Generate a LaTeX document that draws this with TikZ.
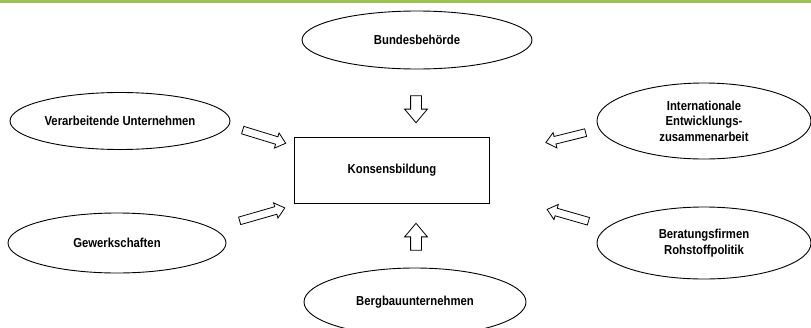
\documentclass[tikz,border=0pt]{standalone}
\usepackage{fontspec}
\setmainfont{Liberation Sans}[FakeStretch=0.87]
\usetikzlibrary{shapes.geometric,shapes.arrows}
\definecolor{topgreen}{HTML}{9CC44C}
\tikzset{
  actor/.style={draw, ellipse, line width=0.9pt, inner sep=0pt, align=center,
    font=\fontsize{13}{15.5}\selectfont\bfseries},
  bigarrow/.style={draw, single arrow, line width=0.8pt, inner sep=5pt,
    minimum height=27pt, single arrow head extend=6pt, single arrow tip angle=80},
  smallarrow/.style={draw, single arrow, line width=0.8pt, inner sep=3.5pt,
    single arrow head extend=4pt, single arrow tip angle=80}
}
\begin{document}
\begin{tikzpicture}[x=1pt,y=-1pt]
    \useasboundingbox (0,0) rectangle (811,327);
    \begin{scope}
    \clip (0,0) rectangle (811,327);
    \fill [topgreen] (0,0) rectangle (811,2.5);
    % centre
    \node [draw, line width=0.9pt, minimum width=195pt, minimum height=66pt,
      font=\fontsize{13}{15.5}\selectfont\bfseries] (konsens) at (392,170) {Konsensbildung};
    % actors
    \node [actor, minimum width=230pt, minimum height=58pt] (bund) at (417,40) {Bundesbeh\"orde};
    \node [actor, minimum width=220pt, minimum height=57pt] (verarb) at (120,121) {Verarbeitende Unternehmen};
    \node [actor, minimum width=218pt, minimum height=60pt] (gewerk) at (117,243) {Gewerkschaften};
    \node [actor, minimum width=214pt, minimum height=76pt] (intern) at (704,121) {Internationale\\Entwicklungs-\\zusammenarbeit};
    \node [actor, minimum width=214pt, minimum height=72pt] (berat) at (704,243) {Beratungsfirmen\\Rohstoffpolitik};
    \node [actor, minimum width=222pt, minimum height=68pt] (bergbau) at (415,302) {Bergbauunternehmen};
    % arrows
    \node [bigarrow, rotate=-90] (pfeilbund) at (416,106) {};
    \node [bigarrow, rotate=90] (pfeilbergbau) at (416,240) {};
    \node [smallarrow, minimum height=45pt, rotate=-17] (pfeilverarb) at (262,136) {};
    \node [smallarrow, minimum height=47pt, rotate=16] (pfeilgewerk) at (260,215) {};
    \node [smallarrow, minimum height=41pt, rotate=-166] (pfeilintern) at (568,137) {};
    \node [smallarrow, minimum height=43pt, rotate=164] (pfeilberat) at (570,216) {};
    \end{scope}
\end{tikzpicture}
\end{document}
